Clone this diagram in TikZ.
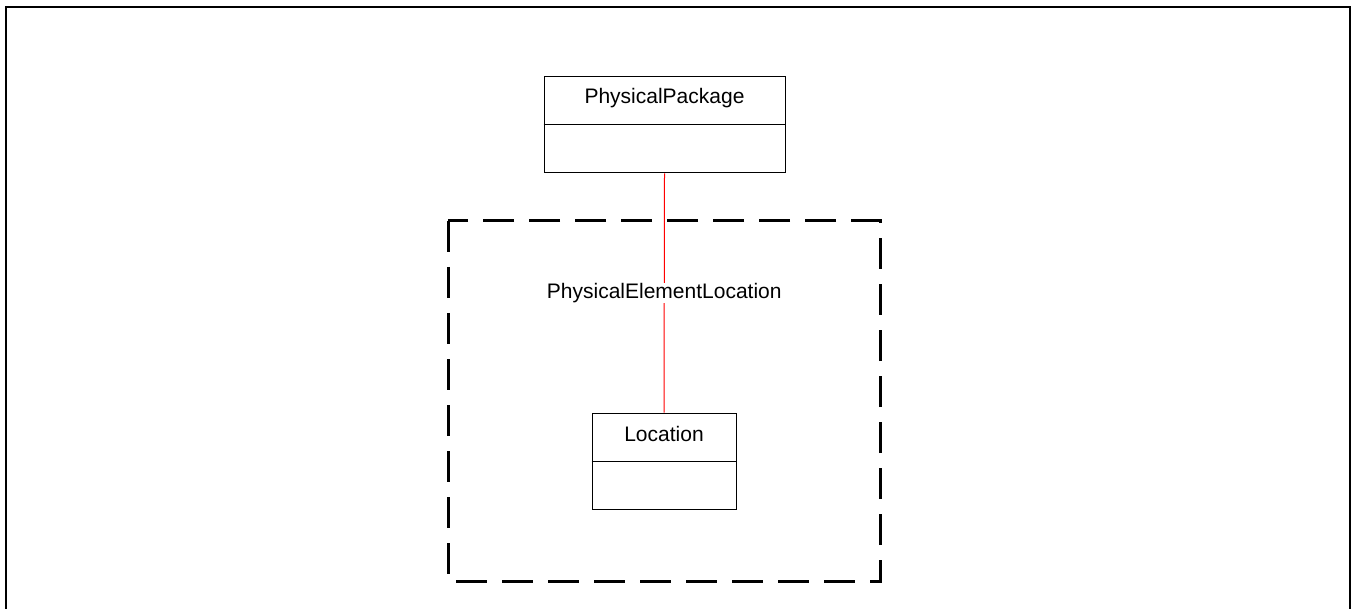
\documentclass[tikz,border=0pt]{standalone}
\usepackage{fontspec}
\setmainfont{Liberation Sans}
\begin{document}
\begin{tikzpicture}[x=1pt,y=-1pt,
  umlbox/.style={draw=black, line width=1pt, minimum height=96pt, inner sep=0pt},
  umltext/.style={anchor=base, inner sep=0pt, font=\fontsize{21}{25}\selectfont},
  assoc/.style={draw=red, line width=1pt},
  assoclabel/.style={fill=white, inner sep=0pt, font=\fontsize{21}{25}\selectfont},
  frameline/.style={line width=2pt},
  grouping/.style={line width=3pt, dash pattern=on 31pt off 15pt}]
\path[use as bounding box, clip] (0,0) rectangle (1351,609);
\fill[white] (0,0) rectangle (1351,609);
% outer frame (open at the bottom)
\draw[frameline] (6,640) -- (6,7) -- (1350,7) -- (1350,640);
% dashed grouping box
\draw[grouping] (448,221) -- (448,581) -- (880,581) -- (880,221) -- cycle;
% PhysicalPackage class
\node[umlbox, minimum width=241pt] (pp) at (664.5,125) {};
\draw[line width=1pt] (pp.west) -- (pp.east);
\node[umltext] (pptext) at (664.5,104) {PhysicalPackage};
% Location class
\node[umlbox, minimum width=144pt] (loc) at (664,461) {};
\draw[line width=1pt] (loc.west) -- (loc.east);
\node[umltext] (loctext) at (664,441) {Location};
% association
\draw[assoc] (pp.south) -- node[assoclabel] (assoclbl) {PhysicalElementLocation} (loc.north);
\end{tikzpicture}
\end{document}
